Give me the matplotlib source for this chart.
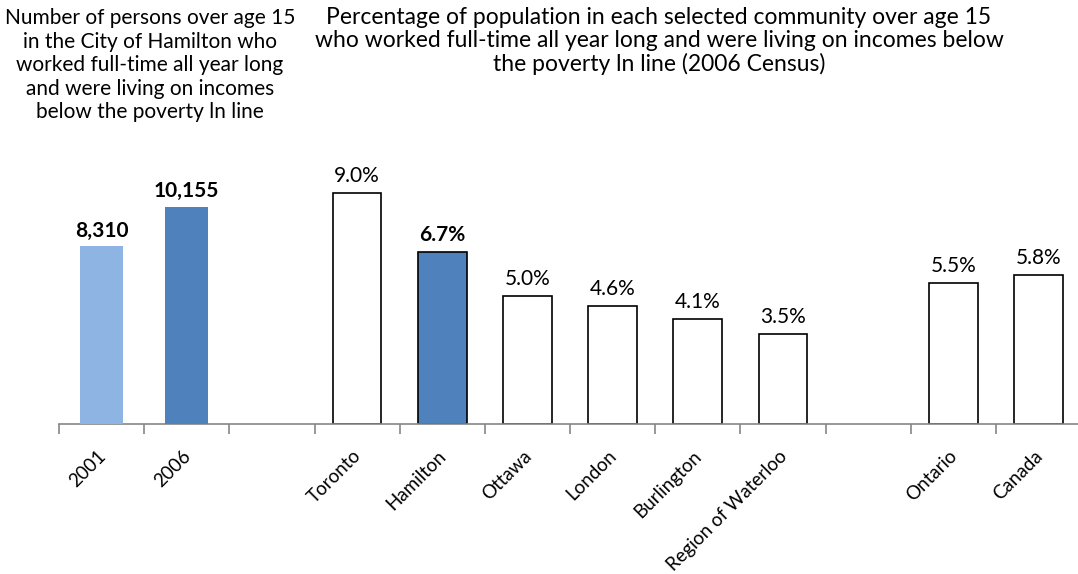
import matplotlib
matplotlib.use('Agg')
import matplotlib.pyplot as plt
from matplotlib.transforms import ScaledTranslation

plt.rcParams['font.family'] = ['Lato', 'DejaVu Sans']

years = ['2001', '2006']
year_counts = [8310, 10155]
year_colors = ['#8DB4E2', '#4F81BD']

places = ['Toronto', 'Hamilton', 'Ottawa', 'London', 'Burlington', 'Region of Waterloo']
place_pct = [9.0, 6.7, 5.0, 4.6, 4.1, 3.5]
provinces = ['Ontario', 'Canada']
province_pct = [5.5, 5.8]

left_title = ('Number of persons over age 15\nin the City of Hamilton who\n'
              'worked full-time all year long\nand were living on incomes\n'
              'below the poverty ln line')
right_title = ('Percentage of population in each selected community over age 15\n'
               'who worked full-time all year long and were living on incomes below\n'
               'the poverty ln line (2006 Census)')

# slot positions on the shared category axis (gaps left empty)
year_x = [0, 1]
place_x = [3, 4, 5, 6, 7, 8]
prov_x = [10, 11]
labels = [''] * 12
for x, n in zip(year_x + place_x + prov_x, years + places + provinces):
    labels[x] = n

fig = plt.figure(figsize=(10.78, 5.74), dpi=100)
ax = fig.add_axes([59 / 1078, 150 / 574, 1022 / 1078, 257 / 574])
ax2 = ax.twinx()

# counts (left group)
ax2.bar(year_x, year_counts, width=0.5, color=year_colors, zorder=2)
for x, v in zip(year_x, year_counts):
    ax2.annotate(f'{v:,}', (x, v), xytext=(0, 4), textcoords='offset points',
                 ha='center', va='bottom', fontsize=15, fontweight='bold')

# percentages
pct_x = place_x + prov_x
pct = place_pct + province_pct
colors = ['white'] * len(pct)
colors[1] = '#4F81BD'
ax.bar(pct_x, pct, width=0.57, color=colors, edgecolor='black', linewidth=1.2, zorder=2)
for i, (x, v) in enumerate(zip(pct_x, pct)):
    ax.annotate(f'{v:.1f}%', (x, v), xytext=(0, 5), textcoords='offset points',
                ha='center', va='bottom', fontsize=15,
                fontweight='bold' if i == 1 else 'normal')

ax.set_xlim(-0.5, 11.5)
ax.set_ylim(0, 10)
ax2.set_ylim(0, 12000)

for a in (ax, ax2):
    for s in ['top', 'right', 'left']:
        a.spines[s].set_visible(False)
    a.set_yticks([])
ax2.spines['bottom'].set_visible(False)
ax.spines['bottom'].set_color('#868686')
ax.spines['bottom'].set_linewidth(1.2)
ax.spines['bottom'].set_zorder(3)

ax.set_xticks(range(12))
ax.set_xticklabels(labels, rotation=45, ha='right', va='center',
                   rotation_mode='anchor', fontsize=13.5)
ax.tick_params(axis='x', which='major', length=0, pad=21)
shift = ScaledTranslation(1 / 100, 0, fig.dpi_scale_trans)
for lab in ax.get_xticklabels():
    lab.set_transform(lab.get_transform() + shift)
ax.set_xticks([i - 0.5 for i in range(13)], minor=True)
ax.tick_params(axis='x', which='minor', length=7, color='#868686', width=1.2)

fig.text(150 / 1078, 1 - 8 / 574, left_title, ha='center', va='top',
         fontsize=15, linespacing=1.22)
fig.text(659 / 1078, 1 - 7 / 574, right_title, ha='center', va='top',
         fontsize=16.5, linespacing=1.12)

fig.savefig('out.png', dpi=100)
